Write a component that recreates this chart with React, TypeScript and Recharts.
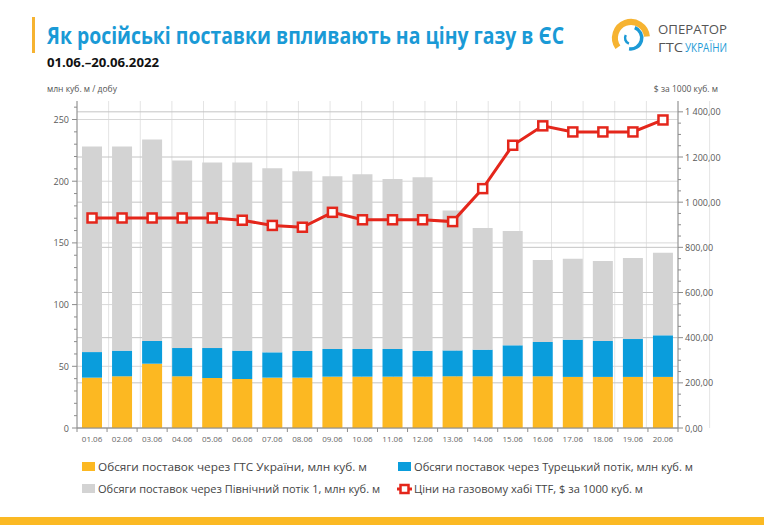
import {
  ComposedChart, Bar, Line, XAxis, YAxis, CartesianGrid,
} from "recharts";

const days = [
  "01.06", "02.06", "03.06", "04.06", "05.06", "06.06", "07.06", "08.06", "09.06", "10.06",
  "11.06", "12.06", "13.06", "14.06", "15.06", "16.06", "17.06", "18.06", "19.06", "20.06",
];
// volumes, mln m3 per day
const viaUkraine = [40.8, 41.9, 52.1, 41.9, 40.5, 39.7, 40.8, 40.8, 41.6, 41.6, 41.6, 41.6, 41.9, 41.9, 41.9, 41.9, 41.4, 41.4, 41.4, 41.4];
const viaTurkStream = [20.7, 20.8, 18.4, 22.9, 24.3, 23.0, 20.5, 21.6, 22.4, 22.4, 22.4, 21.0, 21.0, 21.6, 25.1, 27.8, 30.2, 29.1, 30.7, 33.7];
const viaNordStream = [166.6, 165.4, 163.3, 152.0, 150.4, 152.5, 149.3, 145.7, 140.1, 141.7, 137.7, 140.7, 113.4, 98.5, 92.6, 66.4, 65.6, 64.8, 65.6, 66.9];
// TTF price, $ per 1000 m3
const ttfPrice = [930, 930, 930, 930, 930, 920, 897, 889, 955, 922, 922, 922, 914, 1060, 1252, 1338, 1311, 1311, 1311, 1364];

const leftMajor = [0, 50, 100, 150, 200, 250];
const rightMajor = [0, 200, 400, 600, 800, 1000, 1200, 1400];
const leftTicks = Array.from({ length: 27 }, (_, i) => i * 10);
const rightTicks = Array.from({ length: 29 }, (_, i) => i * 50);
const bandTicks = Array.from({ length: 21 }, (_, i) => i);

const rows = days.map((day, i) => ({
  day,
  ukraine: viaUkraine[i],
  turk: viaTurkStream[i],
  nord: viaNordStream[i],
  price: ttfPrice[i],
}));

const ORANGE = "#fcb822";
const BLUE = "#0a9ddc";
const GREY = "#d3d3d3";
const RED = "#e4261b";
const FONT = "'Open Sans', 'Noto Sans', sans-serif";
const BAND = 601 / 20;

const fmtPrice = (v: number) =>
  v.toFixed(2).replace(".", ",").replace(/\B(?=(\d{3})+(?!\d))/g, " ");

const LeftTick = ({ x, y, payload }: any) => {
  const major = leftMajor.includes(payload.value);
  return (
    <g>
      <line x1={x - (major ? 5 : 3)} x2={x} y1={y} y2={y} stroke="#8c8c8c" />
      {major && (
        <text x={x - 8} y={y + 3.5} textAnchor="end" fontSize={9} fill="#595959" fontFamily={FONT}>
          {payload.value}
        </text>
      )}
    </g>
  );
};

const RightTick = ({ x, y, payload }: any) => {
  const major = rightMajor.includes(payload.value);
  return (
    <g>
      <line x1={x} x2={x + (major ? 5 : 3)} y1={y} y2={y} stroke="#8c8c8c" />
      {major && (
        <text x={x + 7} y={y + 3.5} textAnchor="start" fontSize={9} fill="#595959" fontFamily={FONT}>
          {fmtPrice(payload.value)}
        </text>
      )}
    </g>
  );
};

const DayTick = ({ x, y, payload }: any) => {
  const last = payload.value === days[days.length - 1];
  return (
    <g>
      <line x1={x - BAND / 2} x2={x - BAND / 2} y1={y} y2={y + 4} stroke="#8c8c8c" />
      {last && <line x1={x + BAND / 2} x2={x + BAND / 2} y1={y} y2={y + 4} stroke="#8c8c8c" />}
      <text x={x} y={y + 14} textAnchor="middle" fontSize={8} fill="#666" fontFamily={FONT}>
        {payload.value}
      </text>
    </g>
  );
};

const SquareDot = ({ cx, cy }: any) => (
  <rect x={cx - 4.5} y={cy - 4.5} width={9} height={9} fill="#fff" stroke={RED} strokeWidth={2.5} />
);

const Logo = () => (
  <g>
    <path d="M 617.9 47.2 A 16 16 0 1 1 646.9 36.6" fill="none" stroke="#f6b331" strokeWidth={6} />
    <path d="M 634.8 27.7 A 11 11 0 0 1 629.1 48.8" fill="none" stroke="#1c9ad6" strokeWidth={3.5} />
    <path d="M 625.8 35 A 6 6 0 0 0 628.9 43.6" fill="none" stroke="#1c9ad6" strokeWidth={2.5} />
    <text x={658} y={34} fontSize={12.5} fill="#555" fontFamily={FONT} textLength={69} lengthAdjust="spacingAndGlyphs">
      ОПЕРАТОР
    </text>
    <text x={658} y={52} fontSize={12.5} fill="#555" fontFamily={FONT} textLength={25} lengthAdjust="spacingAndGlyphs">
      ГТС
    </text>
    <text x={685} y={52} fontSize={12.5} fill="#1c9ad6" fontFamily={FONT} textLength={42} lengthAdjust="spacingAndGlyphs">
      УКРАЇНИ
    </text>
  </g>
);

const legendItems = [
  { label: "Обсяги поставок через ГТС України, млн куб. м", color: ORANGE, x: 82, y: 467, w: 269 },
  { label: "Обсяги поставок через Турецький потік, млн куб. м", color: BLUE, x: 398, y: 467, w: 279 },
  { label: "Обсяги поставок через Північний потік 1, млн куб. м", color: GREY, x: 82, y: 489, w: 282 },
];

const App = () => (
  <div style={{ position: "absolute", left: 0, top: 0, width: 764, height: 525, background: "#fff", overflow: "hidden" }}>
    <svg width={764} height={525} style={{ position: "absolute", left: 0, top: 0 }}>
      <rect x={32} y={17} width={3} height={36} fill="#f6b331" />
      <text x={47} y={44} fontSize={23} fontWeight={700} fill="#1a9ad6" fontFamily={FONT}
        textLength={517} lengthAdjust="spacingAndGlyphs">
        Як російські поставки впливають на ціну газу в ЄС
      </text>
      <text x={47} y={67} fontSize={13} fontWeight={700} fill="#111" fontFamily={FONT}
        textLength={112} lengthAdjust="spacingAndGlyphs">
        01.06.–20.06.2022
      </text>
      <text x={47} y={92} fontSize={8.5} fill="#555" fontFamily={FONT}>млн куб. м / добу</text>
      <text x={718} y={92} fontSize={8.5} fill="#555" fontFamily={FONT} textAnchor="end">$ за 1000 куб. м</text>
      <Logo />
      {legendItems.map((it) => (
        <g key={it.label}>
          <rect x={it.x} y={it.y - 5} width={13} height={9} fill={it.color} />
          <text x={it.x + 16} y={it.y + 4} fontSize={11} fill="#444" fontFamily={FONT}
            textLength={it.w} lengthAdjust="spacingAndGlyphs">
            {it.label}
          </text>
        </g>
      ))}
      <line x1={397} x2={412} y1={489} y2={489} stroke={RED} strokeWidth={3} />
      <rect x={400.5} y={485} width={8} height={8} fill="#fff" stroke={RED} strokeWidth={2.5} />
      <text x={414} y={493} fontSize={11} fill="#444" fontFamily={FONT} textLength={229} lengthAdjust="spacingAndGlyphs">
        Ціни на газовому хабі TTF, $ за 1000 куб. м
      </text>
      <rect x={0} y={517} width={764} height={8} fill="#fbb923" />
    </svg>
    <div style={{ position: "absolute", left: 0, top: 0 }}>
      <ComposedChart width={764} height={525} data={rows} margin={{ top: 101, right: 26, bottom: 67, left: 36 }}>
        <XAxis dataKey="day" height={30} interval={0} tickSize={0} tickMargin={0} tickLine={false}
          axisLine={{ stroke: "#8c8c8c" }} tick={<DayTick />} />
        <XAxis xAxisId="g" type="number" domain={[0, 20]} ticks={bandTicks} allowDataOverflow hide />
        <YAxis yAxisId="left" width={41} domain={[0, 265]} ticks={leftTicks} interval={0}
          allowDataOverflow tickSize={0} tickMargin={0} tickLine={false}
          axisLine={{ stroke: "#8c8c8c" }} tick={<LeftTick />} />
        <YAxis yAxisId="right" orientation="right" width={60} domain={[0, 1448]} ticks={rightTicks} interval={0}
          allowDataOverflow tickSize={0} tickMargin={0} tickLine={false}
          axisLine={{ stroke: "#8c8c8c" }} tick={<RightTick />} />
        <CartesianGrid xAxisId="g" yAxisId="left" horizontal={false} stroke="#e4e4e4" />
        <CartesianGrid yAxisId="left" vertical={false} horizontalValues={leftMajor} stroke="#d8d8d8" />
        <CartesianGrid yAxisId="right" vertical={false} horizontalValues={rightMajor} stroke="#c4c4c4" />
        <Bar yAxisId="left" dataKey="ukraine" stackId="v" fill={ORANGE} barSize={20} isAnimationActive={false} />
        <Bar yAxisId="left" dataKey="turk" stackId="v" fill={BLUE} barSize={20} isAnimationActive={false} />
        <Bar yAxisId="left" dataKey="nord" stackId="v" fill={GREY} barSize={20} isAnimationActive={false} />
        <Line yAxisId="right" type="linear" dataKey="price" stroke={RED} strokeWidth={3}
          dot={<SquareDot />} activeDot={false} isAnimationActive={false} />
      </ComposedChart>
    </div>
  </div>
);

export default App;
